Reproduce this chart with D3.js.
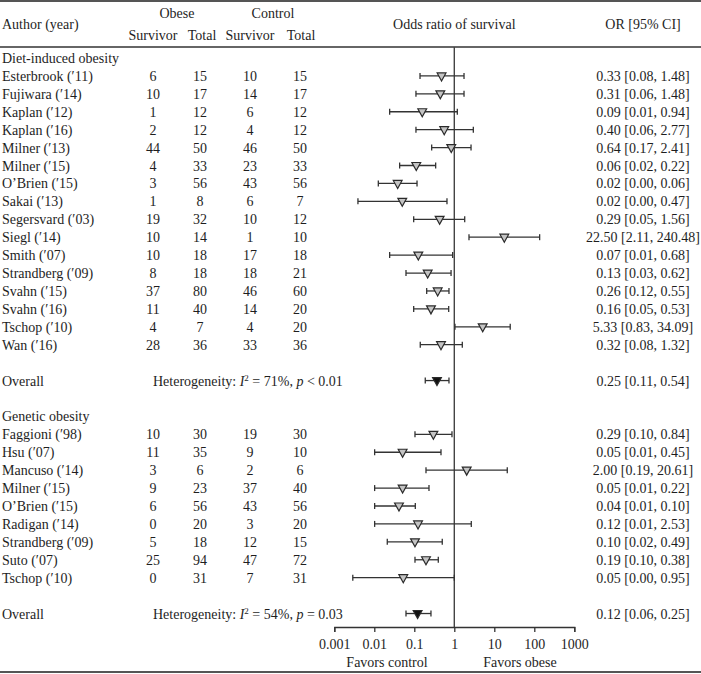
<!DOCTYPE html>
<html>
<head>
<meta charset="utf-8">
<script src="https://cdn.jsdelivr.net/npm/d3@7"></script>
<style>
html,body{margin:0;padding:0;background:#fff;}
svg text{font-family:"Liberation Serif","Times New Roman",serif;fill:#1e1e1e;}
</style>
</head>
<body>
<svg id="chart" width="701" height="674"></svg>
<script>
// ---------- DATA ----------
const dietStudies = ["Esterbrook (\u203211)","Fujiwara (\u203214)","Kaplan (\u203212)","Kaplan (\u203216)","Milner (\u203213)","Milner (\u203215)","O\u2019Brien (\u203215)","Sakai (\u203213)","Segersvard (\u203203)","Siegl (\u203214)","Smith (\u203207)","Strandberg (\u203209)","Svahn (\u203215)","Svahn (\u203216)","Tschop (\u203210)","Wan (\u203216)"];
const dietObeseSurv = [6,10,1,2,44,4,3,1,19,10,10,8,37,11,4,28];
const dietObeseTotal = [15,17,12,12,50,33,56,8,32,14,18,18,80,40,7,36];
const dietCtrlSurv = [10,14,6,4,46,23,43,6,10,1,17,18,46,14,4,33];
const dietCtrlTotal = [15,17,12,12,50,33,56,7,12,10,18,21,60,20,20,36];
const dietOR = [0.48,0.447,0.158,0.56,0.84,0.112,0.0384,0.05,0.43,17.8,0.126,0.216,0.384,0.261,5.13,0.465];
const dietLo = [0.139,0.110,0.0242,0.110,0.272,0.043,0.0126,0.0039,0.0965,2.33,0.0242,0.062,0.204,0.0965,1.04,0.141];
const dietHi = [1.75,1.75,1.19,2.99,2.62,0.342,0.117,0.656,1.82,136,0.91,0.83,0.736,0.724,25,1.585];
const dietCI = ["0.33 [0.08, 1.48]","0.31 [0.06, 1.48]","0.09 [0.01, 0.94]","0.40 [0.06, 2.77]","0.64 [0.17, 2.41]","0.06 [0.02, 0.22]","0.02 [0.00, 0.06]","0.02 [0.00, 0.47]","0.29 [0.05, 1.56]","22.50 [2.11, 240.48]","0.07 [0.01, 0.68]","0.13 [0.03, 0.62]","0.26 [0.12, 0.55]","0.16 [0.05, 0.53]","5.33 [0.83, 34.09]","0.32 [0.08, 1.32]"];
const dietOverall = {or:0.369, lo:0.188, hi:0.736, ci:"0.25 [0.11, 0.54]", i2:"71%", pOp:"<", p:"0.01"};

const genStudies = ["Faggioni (\u203298)","Hsu (\u203207)","Mancuso (\u203214)","Milner (\u203215)","O\u2019Brien (\u203215)","Radigan (\u203214)","Strandberg (\u203209)","Suto (\u203207)","Tschop (\u203210)"];
const genObeseSurv = [10,11,3,9,6,0,5,25,0];
const genObeseTotal = [30,35,6,23,56,20,18,94,31];
const genCtrlSurv = [19,9,2,37,43,3,12,47,7];
const genCtrlTotal = [30,10,6,40,56,20,15,72,31];
const genOR = [0.30,0.051,2.04,0.051,0.0414,0.124,0.104,0.196,0.053];
const genLo = [0.104,0.0102,0.196,0.0102,0.0102,0.0102,0.0211,0.104,0.0029];
const genHi = [0.875,0.465,21.1,0.233,0.106,2.66,0.50,0.398,1.0];
const genCI = ["0.29 [0.10, 0.84]","0.05 [0.01, 0.45]","2.00 [0.19, 20.61]","0.05 [0.01, 0.22]","0.04 [0.01, 0.10]","0.12 [0.01, 2.53]","0.10 [0.02, 0.49]","0.19 [0.10, 0.38]","0.05 [0.00, 0.95]"];
const genOverall = {or:0.121, lo:0.062, hi:0.261, ci:"0.12 [0.06, 0.25]", i2:"54%", pOp:"=", p:"0.03"};

const groupNames = ["Diet-induced obesity","Genetic obesity"];
const tickValues = [0.001,0.01,0.1,1,10,100,1000];
const tickLabels = ["0.001","0.01","0.1","1","10","100","1000"];

// ---------- LAYOUT ----------
const W = 701, H = 674;
const svg = d3.select("#chart");
const FS = 14;
const rowY = i => 58 + i * 17.92;
const x = d3.scaleLog().domain([0.001, 1000]).range([334.3, 574.3]);
const axisY = 627;
const colX = {os:153, ot:200, cs:250, ct:300};
const ciX = 643;

// borders
svg.append("line").attr("x1",0).attr("x2",W).attr("y1",1).attr("y2",1).attr("stroke","#555").attr("stroke-width",2);
svg.append("line").attr("x1",0).attr("x2",W).attr("y1",H-2).attr("y2",H-2).attr("stroke","#555").attr("stroke-width",2);
svg.append("line").attr("x1",0).attr("x2",W).attr("y1",47).attr("y2",47).attr("stroke","#333").attr("stroke-width",1.3);

function txt(xp, yp, s, anchor) {
  return svg.append("text").attr("x",xp).attr("y",yp).attr("font-size",FS).attr("text-anchor",anchor||"start").text(s);
}
txt(2, 29, "Author (year)");
txt(177, 18, "Obese", "middle");
txt(273, 18, "Control", "middle");
txt(colX.os, 40, "Survivor", "middle");
txt(colX.ot+2, 40, "Total", "middle");
txt(colX.cs, 40, "Survivor", "middle");
txt(colX.ct+1, 40, "Total", "middle");
txt(x(1), 29, "Odds ratio of survival", "middle");
txt(ciX, 29, "OR [95% CI]", "middle");

// reference line
svg.append("line").attr("x1",x(1)).attr("x2",x(1)).attr("y1",47).attr("y2",axisY)
  .attr("stroke","#444").attr("stroke-width",1.4);

function tri(cx, cy, fill) {
  const hw = 4.4;
  svg.append("path").attr("d",`M${cx-hw},${cy-3}L${cx+hw},${cy-3}L${cx},${cy+5}Z`)
    .attr("fill",fill).attr("stroke","#2a2a2a").attr("stroke-width",1.2);
}
function ciLine(lo, hi, cy) {
  const g = svg.append("g").attr("stroke","#333").attr("stroke-width",1.3);
  g.append("line").attr("x1",x(lo)).attr("x2",x(hi)).attr("y1",cy).attr("y2",cy);
  g.append("line").attr("x1",x(lo)).attr("x2",x(lo)).attr("y1",cy-3).attr("y2",cy+3);
  g.append("line").attr("x1",x(hi)).attr("x2",x(hi)).attr("y1",cy-3).attr("y2",cy+3);
}

function drawGroup(startIdx, name, studies, os, ot, cs, ct, or, lo, hi, ci, overall) {
  txt(2, rowY(startIdx)+5, name);
  studies.forEach((s, i) => {
    const cy = rowY(startIdx + 1 + i);
    const by = cy + 5;
    txt(2, by, s);
    txt(colX.os, by, os[i], "middle");
    txt(colX.ot, by, ot[i], "middle");
    txt(colX.cs, by, cs[i], "middle");
    txt(colX.ct, by, ct[i], "middle");
    ciLine(lo[i], hi[i], cy);
    tri(x(or[i]), cy, "#c4c4c4");
    txt(ciX, by, ci[i], "middle");
  });
  const oy = rowY(startIdx + studies.length + 2);
  txt(2, oy+5, "Overall");
  const ht = svg.append("text").attr("x",153).attr("y",oy+5).attr("font-size",FS).attr("text-anchor","start");
  ht.append("tspan").text("Heterogeneity: ");
  ht.append("tspan").attr("font-style","italic").text("I");
  ht.append("tspan").attr("font-size",9).attr("dy",-5).text("2");
  ht.append("tspan").attr("dy",5).text(" = " + overall.i2 + ", ");
  ht.append("tspan").attr("font-style","italic").text("p");
  ht.append("tspan").text(" " + overall.pOp + " " + overall.p);
  ciLine(overall.lo, overall.hi, oy);
  tri(x(overall.or), oy, "#111");
  txt(ciX, oy+5, overall.ci, "middle");
}

drawGroup(0, groupNames[0], dietStudies, dietObeseSurv, dietObeseTotal, dietCtrlSurv, dietCtrlTotal, dietOR, dietLo, dietHi, dietCI, dietOverall);
drawGroup(20, groupNames[1], genStudies, genObeseSurv, genObeseTotal, genCtrlSurv, genCtrlTotal, genOR, genLo, genHi, genCI, genOverall);

// axis
const axis = d3.axisBottom(x).tickValues(tickValues)
  .tickFormat((d,i) => tickLabels[i]).tickSizeOuter(0).tickSize(5).tickPadding(7);
const ag = svg.append("g").attr("transform",`translate(0,${axisY})`).call(axis);
ag.selectAll("path,line").attr("stroke","#333").attr("stroke-width",1.3);
ag.selectAll("text").attr("font-size",FS).attr("font-family","Liberation Serif, Times New Roman, serif").attr("fill","#1e1e1e");

txt(387, 667, "Favors control", "middle");
txt(520, 667, "Favors obese", "middle");
</script>
</body>
</html>
